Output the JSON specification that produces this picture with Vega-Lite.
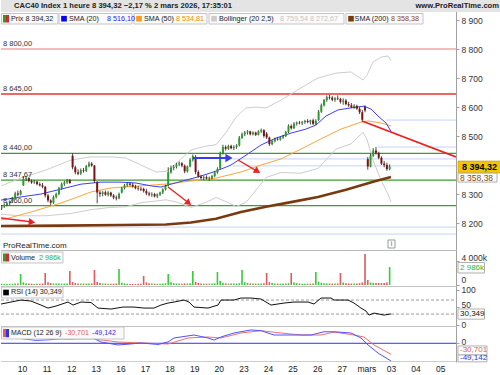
{
"$schema": "https://vega.github.io/schema/vega-lite/v6.json",
"padding": 0,
"spacing": 0,
"bounds": "flush",
"background": "white",
"config": {
  "view": {"stroke": null},
  "font": "Liberation Sans",
  "locale": {"number": {"decimal": ",", "thousands": " ", "grouping": [3], "currency": ["", " €"]}},
  "axis": {"labelFont": "Liberation Sans", "labelFontSize": 8.5, "labelColor": "#333", "domainColor": "#a0a0a0", "tickColor": "#a0a0a0", "tickSize": 3, "labelPadding": 2, "grid": false}
},
"datasets": {
  "one": [{}],
  "bars": [
{"t":0.167,"o":8250,"h":8262,"l":8245,"c":8258,"v":200},
{"t":0.278,"o":8258,"h":8268,"l":8252,"c":8262,"v":180},
{"t":0.389,"o":8262,"h":8272,"l":8258,"c":8268,"v":170},
{"t":0.5,"o":8268,"h":8278,"l":8262,"c":8275,"v":190},
{"t":0.611,"o":8275,"h":8290,"l":8270,"c":8288,"v":210},
{"t":0.722,"o":8288,"h":8308,"l":8285,"c":8302,"v":230},
{"t":0.833,"o":8302,"h":8312,"l":8292,"c":8298,"v":260},
{"t":0.944,"o":8298,"h":8315,"l":8295,"c":8310,"v":1830},
{"t":1.056,"o":8330,"h":8362,"l":8328,"c":8352,"v":450},
{"t":1.167,"o":8352,"h":8360,"l":8345,"c":8355,"v":300},
{"t":1.278,"o":8355,"h":8358,"l":8340,"c":8345,"v":250},
{"t":1.389,"o":8345,"h":8350,"l":8335,"c":8340,"v":220},
{"t":1.5,"o":8340,"h":8348,"l":8335,"c":8343,"v":200},
{"t":1.611,"o":8343,"h":8346,"l":8330,"c":8334,"v":200},
{"t":1.722,"o":8334,"h":8340,"l":8326,"c":8330,"v":210},
{"t":1.833,"o":8330,"h":8338,"l":8320,"c":8325,"v":250},
{"t":1.944,"o":8325,"h":8328,"l":8288,"c":8295,"v":2000},
{"t":2.056,"o":8295,"h":8300,"l":8272,"c":8278,"v":450},
{"t":2.167,"o":8278,"h":8282,"l":8262,"c":8270,"v":320},
{"t":2.278,"o":8270,"h":8295,"l":8266,"c":8290,"v":260},
{"t":2.389,"o":8290,"h":8305,"l":8285,"c":8300,"v":230},
{"t":2.5,"o":8300,"h":8325,"l":8296,"c":8320,"v":240},
{"t":2.611,"o":8320,"h":8340,"l":8315,"c":8335,"v":230},
{"t":2.722,"o":8335,"h":8345,"l":8328,"c":8340,"v":220},
{"t":2.833,"o":8340,"h":8352,"l":8335,"c":8348,"v":260},
{"t":2.944,"o":8348,"h":8352,"l":8335,"c":8338,"v":2330},
{"t":3.056,"o":8432,"h":8440,"l":8385,"c":8392,"v":480},
{"t":3.167,"o":8392,"h":8398,"l":8368,"c":8375,"v":330},
{"t":3.278,"o":8375,"h":8385,"l":8365,"c":8370,"v":260},
{"t":3.389,"o":8370,"h":8388,"l":8366,"c":8382,"v":230},
{"t":3.5,"o":8382,"h":8390,"l":8374,"c":8380,"v":220},
{"t":3.611,"o":8380,"h":8400,"l":8376,"c":8396,"v":220},
{"t":3.722,"o":8396,"h":8412,"l":8392,"c":8405,"v":230},
{"t":3.833,"o":8405,"h":8410,"l":8394,"c":8398,"v":260},
{"t":3.944,"o":8398,"h":8400,"l":8338,"c":8345,"v":2500},
{"t":4.056,"o":8340,"h":8345,"l":8268,"c":8305,"v":520},
{"t":4.167,"o":8305,"h":8312,"l":8290,"c":8300,"v":330},
{"t":4.278,"o":8300,"h":8310,"l":8292,"c":8306,"v":250},
{"t":4.389,"o":8306,"h":8312,"l":8294,"c":8298,"v":230},
{"t":4.5,"o":8298,"h":8310,"l":8292,"c":8305,"v":220},
{"t":4.611,"o":8305,"h":8308,"l":8290,"c":8295,"v":210},
{"t":4.722,"o":8295,"h":8300,"l":8282,"c":8288,"v":220},
{"t":4.833,"o":8288,"h":8295,"l":8278,"c":8285,"v":260},
{"t":4.944,"o":8285,"h":8305,"l":8282,"c":8300,"v":2670},
{"t":5.056,"o":8305,"h":8325,"l":8302,"c":8320,"v":380},
{"t":5.167,"o":8320,"h":8335,"l":8316,"c":8330,"v":260},
{"t":5.278,"o":8330,"h":8340,"l":8325,"c":8336,"v":200},
{"t":5.389,"o":8336,"h":8340,"l":8326,"c":8332,"v":180},
{"t":5.5,"o":8332,"h":8338,"l":8322,"c":8326,"v":170},
{"t":5.611,"o":8326,"h":8332,"l":8316,"c":8320,"v":180},
{"t":5.722,"o":8320,"h":8328,"l":8312,"c":8318,"v":190},
{"t":5.833,"o":8318,"h":8325,"l":8310,"c":8315,"v":210},
{"t":5.944,"o":8318,"h":8322,"l":8305,"c":8310,"v":1500},
{"t":6.056,"o":8310,"h":8318,"l":8296,"c":8302,"v":420},
{"t":6.167,"o":8302,"h":8308,"l":8292,"c":8298,"v":300},
{"t":6.278,"o":8298,"h":8306,"l":8290,"c":8300,"v":240},
{"t":6.389,"o":8300,"h":8304,"l":8288,"c":8292,"v":220},
{"t":6.5,"o":8292,"h":8302,"l":8286,"c":8298,"v":210},
{"t":6.611,"o":8298,"h":8308,"l":8294,"c":8305,"v":220},
{"t":6.722,"o":8305,"h":8320,"l":8300,"c":8316,"v":240},
{"t":6.833,"o":8316,"h":8332,"l":8312,"c":8328,"v":280},
{"t":6.944,"o":8330,"h":8392,"l":8326,"c":8375,"v":1830},
{"t":7.056,"o":8375,"h":8398,"l":8370,"c":8390,"v":450},
{"t":7.167,"o":8390,"h":8400,"l":8382,"c":8394,"v":300},
{"t":7.278,"o":8394,"h":8408,"l":8388,"c":8402,"v":250},
{"t":7.389,"o":8402,"h":8412,"l":8396,"c":8406,"v":230},
{"t":7.5,"o":8406,"h":8410,"l":8392,"c":8398,"v":220},
{"t":7.611,"o":8398,"h":8402,"l":8372,"c":8378,"v":260},
{"t":7.722,"o":8378,"h":8398,"l":8374,"c":8395,"v":250},
{"t":7.833,"o":8395,"h":8424,"l":8392,"c":8418,"v":280},
{"t":7.944,"o":8418,"h":8436,"l":8412,"c":8430,"v":2330},
{"t":8.056,"o":8428,"h":8434,"l":8368,"c":8376,"v":520},
{"t":8.167,"o":8376,"h":8382,"l":8356,"c":8360,"v":340},
{"t":8.278,"o":8360,"h":8366,"l":8350,"c":8355,"v":260},
{"t":8.389,"o":8355,"h":8362,"l":8348,"c":8358,"v":230},
{"t":8.5,"o":8358,"h":8364,"l":8350,"c":8354,"v":220},
{"t":8.611,"o":8354,"h":8360,"l":8346,"c":8356,"v":220},
{"t":8.722,"o":8356,"h":8366,"l":8350,"c":8362,"v":240},
{"t":8.833,"o":8362,"h":8378,"l":8358,"c":8374,"v":280},
{"t":8.944,"o":8374,"h":8392,"l":8370,"c":8386,"v":2170},
{"t":9.056,"o":8388,"h":8446,"l":8385,"c":8440,"v":650},
{"t":9.167,"o":8440,"h":8470,"l":8436,"c":8462,"v":380},
{"t":9.278,"o":8462,"h":8468,"l":8450,"c":8456,"v":280},
{"t":9.389,"o":8456,"h":8470,"l":8452,"c":8466,"v":250},
{"t":9.5,"o":8466,"h":8470,"l":8454,"c":8458,"v":230},
{"t":9.611,"o":8458,"h":8468,"l":8452,"c":8462,"v":230},
{"t":9.722,"o":8462,"h":8472,"l":8456,"c":8468,"v":250},
{"t":9.833,"o":8468,"h":8500,"l":8464,"c":8494,"v":300},
{"t":9.944,"o":8494,"h":8512,"l":8490,"c":8506,"v":2500},
{"t":10.056,"o":8506,"h":8518,"l":8500,"c":8512,"v":450},
{"t":10.167,"o":8512,"h":8520,"l":8505,"c":8516,"v":320},
{"t":10.278,"o":8516,"h":8518,"l":8502,"c":8506,"v":260},
{"t":10.389,"o":8506,"h":8516,"l":8502,"c":8512,"v":230},
{"t":10.5,"o":8512,"h":8515,"l":8500,"c":8504,"v":220},
{"t":10.611,"o":8504,"h":8520,"l":8502,"c":8516,"v":230},
{"t":10.722,"o":8516,"h":8526,"l":8510,"c":8520,"v":240},
{"t":10.833,"o":8520,"h":8524,"l":8494,"c":8500,"v":290},
{"t":10.944,"o":8508,"h":8514,"l":8490,"c":8495,"v":2000},
{"t":11.056,"o":8495,"h":8498,"l":8466,"c":8472,"v":480},
{"t":11.167,"o":8472,"h":8486,"l":8468,"c":8482,"v":330},
{"t":11.278,"o":8482,"h":8494,"l":8478,"c":8490,"v":260},
{"t":11.389,"o":8490,"h":8496,"l":8484,"c":8488,"v":230},
{"t":11.5,"o":8488,"h":8498,"l":8484,"c":8495,"v":220},
{"t":11.611,"o":8495,"h":8504,"l":8490,"c":8500,"v":230},
{"t":11.722,"o":8500,"h":8518,"l":8496,"c":8514,"v":250},
{"t":11.833,"o":8514,"h":8540,"l":8510,"c":8535,"v":300},
{"t":11.944,"o":8535,"h":8540,"l":8522,"c":8527,"v":2000},
{"t":12.056,"o":8527,"h":8548,"l":8524,"c":8542,"v":420},
{"t":12.167,"o":8542,"h":8550,"l":8536,"c":8546,"v":300},
{"t":12.278,"o":8546,"h":8552,"l":8540,"c":8544,"v":240},
{"t":12.389,"o":8544,"h":8552,"l":8538,"c":8548,"v":220},
{"t":12.5,"o":8548,"h":8556,"l":8542,"c":8552,"v":210},
{"t":12.611,"o":8552,"h":8558,"l":8544,"c":8548,"v":220},
{"t":12.722,"o":8548,"h":8556,"l":8540,"c":8554,"v":230},
{"t":12.833,"o":8554,"h":8560,"l":8538,"c":8542,"v":260},
{"t":12.944,"o":8542,"h":8558,"l":8538,"c":8552,"v":2170},
{"t":13.056,"o":8555,"h":8590,"l":8552,"c":8584,"v":550},
{"t":13.167,"o":8584,"h":8612,"l":8580,"c":8606,"v":380},
{"t":13.278,"o":8606,"h":8628,"l":8602,"c":8624,"v":300},
{"t":13.389,"o":8624,"h":8640,"l":8618,"c":8634,"v":260},
{"t":13.5,"o":8634,"h":8642,"l":8626,"c":8632,"v":240},
{"t":13.611,"o":8632,"h":8638,"l":8620,"c":8625,"v":230},
{"t":13.722,"o":8625,"h":8634,"l":8618,"c":8630,"v":240},
{"t":13.833,"o":8630,"h":8640,"l":8624,"c":8628,"v":260},
{"t":13.944,"o":8628,"h":8632,"l":8612,"c":8618,"v":2000},
{"t":14.056,"o":8618,"h":8630,"l":8608,"c":8622,"v":420},
{"t":14.167,"o":8622,"h":8628,"l":8606,"c":8610,"v":300},
{"t":14.278,"o":8610,"h":8618,"l":8600,"c":8606,"v":260},
{"t":14.389,"o":8606,"h":8614,"l":8596,"c":8600,"v":240},
{"t":14.5,"o":8600,"h":8610,"l":8594,"c":8604,"v":230},
{"t":14.611,"o":8604,"h":8608,"l":8590,"c":8594,"v":240},
{"t":14.722,"o":8594,"h":8600,"l":8576,"c":8582,"v":300},
{"t":14.833,"o":8582,"h":8590,"l":8548,"c":8556,"v":420},
{"t":14.944,"o":8600,"h":8606,"l":8582,"c":8588,"v":5170},
{"t":15.056,"o":8420,"h":8428,"l":8384,"c":8395,"v":830},
{"t":15.167,"o":8395,"h":8440,"l":8392,"c":8432,"v":420},
{"t":15.278,"o":8432,"h":8458,"l":8428,"c":8450,"v":360},
{"t":15.389,"o":8450,"h":8462,"l":8436,"c":8442,"v":330},
{"t":15.5,"o":8442,"h":8446,"l":8420,"c":8425,"v":320},
{"t":15.611,"o":8425,"h":8430,"l":8400,"c":8405,"v":330},
{"t":15.722,"o":8405,"h":8414,"l":8392,"c":8400,"v":340},
{"t":15.833,"o":8400,"h":8408,"l":8380,"c":8386,"v":400},
{"t":15.944,"o":8386,"h":8402,"l":8382,"c":8394.32,"v":2986}
  ],
  "ind": [
{"k":"s20","t":0.146,"v":8279},{"k":"s20","t":0.959,"v":8290},{"k":"s20","t":1.772,"v":8300},{"k":"s20","t":2.585,"v":8317},{"k":"s20","t":3.398,"v":8334},{"k":"s20","t":4.211,"v":8341},{"k":"s20","t":5.024,"v":8341},{"k":"s20","t":5.634,"v":8338},{"k":"s20","t":6.244,"v":8328},{"k":"s20","t":6.65,"v":8324},{"k":"s20","t":7.057,"v":8334},{"k":"s20","t":7.666,"v":8348},{"k":"s20","t":8.276,"v":8362},{"k":"s20","t":8.886,"v":8379},{"k":"s20","t":9.496,"v":8400},{"k":"s20","t":10.106,"v":8434},{"k":"s20","t":10.715,"v":8469},{"k":"s20","t":11.325,"v":8493},{"k":"s20","t":11.935,"v":8510},{"k":"s20","t":12.545,"v":8524},{"k":"s20","t":12.951,"v":8538},{"k":"s20","t":13.358,"v":8569},{"k":"s20","t":13.846,"v":8590},{"k":"s20","t":14.374,"v":8597},{"k":"s20","t":14.902,"v":8603},{"k":"s20","t":15.187,"v":8593},{"k":"s20","t":15.471,"v":8569},{"k":"s20","t":15.797,"v":8545},{"k":"s20","t":15.999,"v":8516.1},
{"k":"s50","t":0.146,"v":8210},{"k":"s50","t":1.366,"v":8238},{"k":"s50","t":2.585,"v":8269},{"k":"s50","t":3.805,"v":8307},{"k":"s50","t":4.618,"v":8321},{"k":"s50","t":5.837,"v":8328},{"k":"s50","t":6.935,"v":8335},{"k":"s50","t":7.87,"v":8345},{"k":"s50","t":8.886,"v":8355},{"k":"s50","t":9.902,"v":8376},{"k":"s50","t":10.715,"v":8400},{"k":"s50","t":11.528,"v":8421},{"k":"s50","t":12.341,"v":8455},{"k":"s50","t":13.154,"v":8490},{"k":"s50","t":13.967,"v":8524},{"k":"s50","t":14.78,"v":8548},{"k":"s50","t":15.065,"v":8552},{"k":"s50","t":15.593,"v":8545},{"k":"s50","t":15.999,"v":8534.81},
{"k":"s200","t":0.146,"v":8190},{"k":"s200","t":2.585,"v":8191},{"k":"s200","t":5.024,"v":8193},{"k":"s200","t":6.854,"v":8195},{"k":"s200","t":7.87,"v":8202},{"k":"s200","t":8.886,"v":8215},{"k":"s200","t":9.902,"v":8238},{"k":"s200","t":10.919,"v":8256},{"k":"s200","t":11.935,"v":8272},{"k":"s200","t":13.032,"v":8290},{"k":"s200","t":14.17,"v":8315},{"k":"s200","t":15.309,"v":8343},{"k":"s200","t":15.999,"v":8358.38},
{"k":"bbu","t":0.146,"v":8328},{"k":"bbu","t":0.959,"v":8355},{"k":"bbu","t":1.975,"v":8383},{"k":"bbu","t":2.992,"v":8417},{"k":"bbu","t":3.805,"v":8428},{"k":"bbu","t":4.618,"v":8428},{"k":"bbu","t":5.227,"v":8424},{"k":"bbu","t":5.837,"v":8400},{"k":"bbu","t":6.447,"v":8376},{"k":"bbu","t":6.854,"v":8378},{"k":"bbu","t":7.26,"v":8405},{"k":"bbu","t":7.87,"v":8452},{"k":"bbu","t":8.479,"v":8465},{"k":"bbu","t":8.886,"v":8470},{"k":"bbu","t":9.293,"v":8512},{"k":"bbu","t":9.699,"v":8565},{"k":"bbu","t":10.106,"v":8597},{"k":"bbu","t":10.512,"v":8600},{"k":"bbu","t":10.919,"v":8597},{"k":"bbu","t":11.528,"v":8624},{"k":"bbu","t":12.341,"v":8666},{"k":"bbu","t":13.032,"v":8700},{"k":"bbu","t":13.764,"v":8717},{"k":"bbu","t":14.374,"v":8721},{"k":"bbu","t":14.862,"v":8693},{"k":"bbu","t":15.024,"v":8710},{"k":"bbu","t":15.268,"v":8755},{"k":"bbu","t":15.593,"v":8772},{"k":"bbu","t":15.878,"v":8776},{"k":"bbu","t":15.999,"v":8759.54},
{"k":"bbl","t":0.146,"v":8230},{"k":"bbl","t":0.959,"v":8225},{"k":"bbl","t":1.975,"v":8225},{"k":"bbl","t":2.992,"v":8233},{"k":"bbl","t":3.805,"v":8246},{"k":"bbl","t":4.618,"v":8254},{"k":"bbl","t":5.227,"v":8256},{"k":"bbl","t":5.837,"v":8270},{"k":"bbl","t":6.447,"v":8276},{"k":"bbl","t":6.854,"v":8280},{"k":"bbl","t":7.26,"v":8273},{"k":"bbl","t":7.87,"v":8254},{"k":"bbl","t":8.479,"v":8271},{"k":"bbl","t":8.886,"v":8288},{"k":"bbl","t":9.293,"v":8274},{"k":"bbl","t":9.699,"v":8257},{"k":"bbl","t":10.106,"v":8271},{"k":"bbl","t":10.512,"v":8314},{"k":"bbl","t":10.919,"v":8357},{"k":"bbl","t":11.528,"v":8374},{"k":"bbl","t":12.341,"v":8372},{"k":"bbl","t":13.032,"v":8388},{"k":"bbl","t":13.764,"v":8455},{"k":"bbl","t":14.374,"v":8473},{"k":"bbl","t":14.862,"v":8513},{"k":"bbl","t":15.024,"v":8488},{"k":"bbl","t":15.268,"v":8417},{"k":"bbl","t":15.593,"v":8348},{"k":"bbl","t":15.878,"v":8300},{"k":"bbl","t":15.999,"v":8272.67}
  ],
  "levels": [
{"g":"r2","p":8800,"t1":0.146,"t2":18.642},
{"g":"r1","p":8645,"t1":0.146,"t2":18.642},
{"g":"gr","p":8440,"t1":0.146,"t2":18.642},
{"g":"gr","p":8347.67,"t1":0.146,"t2":18.642},
{"g":"gr","p":8260,"t1":0.146,"t2":18.642},
{"g":"lb","p":8555,"t1":15.797,"t2":18.642},
{"g":"lb","p":8462,"t1":15.471,"t2":18.642},
{"g":"lb","p":8421,"t1":9.577,"t2":18.642},
{"g":"lb","p":8397,"t1":9.577,"t2":18.642},
{"g":"lb","p":8186,"t1":0.146,"t2":18.642},
{"g":"lb","p":8162,"t1":0.146,"t2":18.642}
  ],
  "arrows": [
{"g":"red","t1":0.146,"p1":8217.3,"t2":1.406,"p2":8203.5},
{"g":"red","t1":6.935,"p1":8324.2,"t2":7.776,"p2":8268.7},
{"g":"red","t1":9.78,"p1":8417.3,"t2":10.569,"p2":8378},
{"g":"trend","t1":14.821,"p1":8551.8,"t2":18.642,"p2":8427.7},
{"g":"blue","t1":7.951,"p1":8424.2,"t2":9.414,"p2":8424.2}
  ],
  "rsi": [
{"t":0.146,"v":58.6},{"t":0.553,"v":64.3},{"t":0.959,"v":70},{"t":1.366,"v":67},{"t":1.772,"v":55.7},{"t":2.057,"v":47.1},{"t":2.382,"v":52.9},{"t":2.87,"v":64.3},{"t":3.073,"v":55.7},{"t":3.398,"v":64.3},{"t":3.805,"v":62.9},{"t":4.089,"v":47.1},{"t":4.618,"v":44.3},{"t":5.106,"v":50},{"t":5.553,"v":50},{"t":5.959,"v":47.1},{"t":6.366,"v":47.1},{"t":6.65,"v":55.7},{"t":6.935,"v":61.4},{"t":7.179,"v":64.3},{"t":7.585,"v":70},{"t":7.788,"v":64.3},{"t":7.992,"v":50},{"t":8.561,"v":47.1},{"t":8.967,"v":55.7},{"t":9.089,"v":70},{"t":9.618,"v":70},{"t":9.902,"v":75.7},{"t":10.309,"v":75.7},{"t":10.715,"v":72.9},{"t":10.919,"v":64.3},{"t":11.122,"v":55.7},{"t":11.65,"v":61.4},{"t":12.057,"v":64.3},{"t":12.626,"v":64.3},{"t":12.87,"v":58.6},{"t":13.154,"v":75.7},{"t":13.561,"v":75.7},{"t":13.683,"v":70},{"t":14.252,"v":70},{"t":14.496,"v":61.4},{"t":14.78,"v":47.1},{"t":14.984,"v":38.6},{"t":15.106,"v":27.1},{"t":15.309,"v":32.9},{"t":15.715,"v":27.1},{"t":15.999,"v":30.349}
  ],
  "macd": [
{"k":"m","t":0.146,"v":16},{"k":"m","t":0.959,"v":13},{"k":"m","t":1.569,"v":8},{"k":"m","t":2.179,"v":10},{"k":"m","t":2.585,"v":13},{"k":"m","t":2.992,"v":12},{"k":"m","t":3.398,"v":15},{"k":"m","t":3.927,"v":13},{"k":"m","t":4.211,"v":3.6},{"k":"m","t":4.902,"v":-4.7},{"k":"m","t":5.227,"v":-3},{"k":"m","t":5.837,"v":0.8},{"k":"m","t":6.528,"v":-3.3},{"k":"m","t":6.935,"v":3.6},{"k":"m","t":7.179,"v":14.7},{"k":"m","t":7.992,"v":23},{"k":"m","t":8.561,"v":14.7},{"k":"m","t":8.805,"v":9},{"k":"m","t":9.089,"v":17.5},{"k":"m","t":9.618,"v":28.6},{"k":"m","t":10.309,"v":37},{"k":"m","t":10.715,"v":35},{"k":"m","t":11.244,"v":23},{"k":"m","t":11.935,"v":23},{"k":"m","t":12.748,"v":23},{"k":"m","t":13.276,"v":32},{"k":"m","t":13.683,"v":32},{"k":"m","t":14.374,"v":28.6},{"k":"m","t":14.78,"v":14.7},{"k":"m","t":15.065,"v":-4.7},{"k":"m","t":15.471,"v":-27},{"k":"m","t":15.999,"v":-49.142},
{"k":"s","t":0.146,"v":17},{"k":"s","t":1.366,"v":15},{"k":"s","t":2.585,"v":12},{"k":"s","t":3.927,"v":12},{"k":"s","t":4.902,"v":3.6},{"k":"s","t":5.837,"v":0.8},{"k":"s","t":6.935,"v":-2},{"k":"s","t":7.748,"v":14.7},{"k":"s","t":8.561,"v":17.5},{"k":"s","t":9.089,"v":14.7},{"k":"s","t":9.902,"v":28.6},{"k":"s","t":10.715,"v":35},{"k":"s","t":11.528,"v":28.6},{"k":"s","t":12.341,"v":23},{"k":"s","t":13.154,"v":23},{"k":"s","t":13.683,"v":31},{"k":"s","t":14.496,"v":23},{"k":"s","t":14.902,"v":17.5},{"k":"s","t":15.309,"v":-4.7},{"k":"s","t":15.999,"v":-30.701}
  ]
},
"vconcat": [
{
  "width": 455, "height": 250,
  "data": {"name": "one"},
  "layer": [
    {"mark": {"type": "rect", "color": "#e4e4e4"},
     "encoding": {"x": {"datum": 0.146, "type": "quantitative", "scale": {"domain": [0.146, 18.642], "nice": false, "zero": false}, "axis": null}, "x2": {"datum": 20.472},
                  "y": {"datum": 8969, "type": "quantitative", "scale": {"domain": [8107, 8969], "nice": false, "zero": false}}, "y2": {"datum": 8927.6}}},
    {"data": {"name": "levels"}, "transform": [{"filter": "datum.g === 'lb'"}],
     "mark": {"type": "rule", "color": "#c6d3f6", "strokeWidth": 1, "clip": true},
     "encoding": {"x": {"field": "t1", "type": "quantitative", "axis": null}, "x2": {"field": "t2"}, "y": {"field": "p", "type": "quantitative"}}},
    {"data": {"name": "levels"}, "transform": [{"filter": "datum.g === 'gr'"}],
     "mark": {"type": "rule", "color": "#3f9a35", "strokeWidth": 1.2, "clip": true},
     "encoding": {"x": {"field": "t1", "type": "quantitative", "axis": null}, "x2": {"field": "t2"}, "y": {"field": "p", "type": "quantitative"}}},
    {"data": {"name": "levels"}, "transform": [{"filter": "datum.g === 'r1'"}],
     "mark": {"type": "rule", "color": "#e8342c", "strokeWidth": 1.5, "clip": true},
     "encoding": {"x": {"field": "t1", "type": "quantitative", "axis": null}, "x2": {"field": "t2"}, "y": {"field": "p", "type": "quantitative"}}},
    {"data": {"name": "levels"}, "transform": [{"filter": "datum.g === 'r2'"}],
     "mark": {"type": "rule", "color": "#f4a4a4", "strokeWidth": 1.5, "clip": true},
     "encoding": {"x": {"field": "t1", "type": "quantitative", "axis": null}, "x2": {"field": "t2"}, "y": {"field": "p", "type": "quantitative"}}},
    {"data": {"name": "ind"}, "transform": [{"filter": "datum.k === 'bbu' || datum.k === 'bbl'"}],
     "mark": {"type": "line", "color": "#cdcdcd", "strokeWidth": 1, "clip": true},
     "encoding": {"x": {"field": "t", "type": "quantitative", "axis": null}, "y": {"field": "v", "type": "quantitative"}, "detail": {"field": "k"}}},
    {"data": {"name": "ind"}, "transform": [{"filter": "datum.k === 's200'"}],
     "mark": {"type": "line", "color": "#7a3a10", "strokeWidth": 2.6, "clip": true},
     "encoding": {"x": {"field": "t", "type": "quantitative", "axis": null}, "y": {"field": "v", "type": "quantitative"}}},
    {"data": {"name": "ind"}, "transform": [{"filter": "datum.k === 's50'"}],
     "mark": {"type": "line", "color": "#ffa53a", "strokeWidth": 1, "clip": true},
     "encoding": {"x": {"field": "t", "type": "quantitative", "axis": null}, "y": {"field": "v", "type": "quantitative"}}},
    {"data": {"name": "ind"}, "transform": [{"filter": "datum.k === 's20'"}],
     "mark": {"type": "line", "color": "#3d3dff", "strokeWidth": 1, "clip": true},
     "encoding": {"x": {"field": "t", "type": "quantitative", "axis": null}, "y": {"field": "v", "type": "quantitative"}}},
    {"data": {"name": "bars"},
     "mark": {"type": "rule", "color": "#1a1a1a", "strokeWidth": 0.8, "clip": true},
     "encoding": {"x": {"field": "t", "type": "quantitative", "axis": null},
                  "y": {"field": "l", "type": "quantitative", "axis": {"orient": "right", "values": [8200, 8300, 8500, 8600, 8700, 8800, 8900], "tickCount": 40, "labelExpr": "replace(format(datum.value, ','), ',', ' ')", "title": null, "labelOverlap": false}},
                  "y2": {"field": "h"}}},
    {"data": {"name": "bars"},
     "mark": {"type": "rule", "strokeWidth": 2, "clip": true},
     "encoding": {"x": {"field": "t", "type": "quantitative", "axis": null}, "y": {"field": "o", "type": "quantitative"}, "y2": {"field": "c"},
                  "color": {"condition": {"test": "datum.c >= datum.o", "value": "#2a9d2a"}, "value": "#7d1212"}}},
    {"data": {"name": "arrows"}, "transform": [{"filter": "datum.g === 'red'"}],
     "mark": {"type": "rule", "color": "#ee2020", "strokeWidth": 1.3, "clip": true},
     "encoding": {"x": {"field": "t1", "type": "quantitative", "axis": null}, "x2": {"field": "t2"}, "y": {"field": "p1", "type": "quantitative"}, "y2": {"field": "p2"}}},
    {"data": {"name": "arrows"}, "transform": [{"filter": "datum.g === 'trend'"}],
     "mark": {"type": "rule", "color": "#ee2020", "strokeWidth": 1.8, "clip": true},
     "encoding": {"x": {"field": "t1", "type": "quantitative", "axis": null}, "x2": {"field": "t2"}, "y": {"field": "p1", "type": "quantitative"}, "y2": {"field": "p2"}}},
    {"data": {"name": "arrows"}, "transform": [{"filter": "datum.g === 'blue'"}],
     "mark": {"type": "rule", "color": "#3a3af0", "strokeWidth": 2, "clip": true},
     "encoding": {"x": {"field": "t1", "type": "quantitative", "axis": null}, "x2": {"field": "t2"}, "y": {"field": "p1", "type": "quantitative"}, "y2": {"field": "p2"}}},
    {"mark": {"type": "point", "shape": "triangle-right", "filled": true, "color": "#ee2020", "size": 55, "angle": 7, "opacity": 1},
     "encoding": {"x": {"datum": 1.406, "type": "quantitative", "axis": null}, "y": {"datum": 8203.5, "type": "quantitative"}}},
    {"mark": {"type": "point", "shape": "triangle-right", "filled": true, "color": "#ee2020", "size": 55, "angle": 39, "opacity": 1},
     "encoding": {"x": {"datum": 7.776, "type": "quantitative", "axis": null}, "y": {"datum": 8268.7, "type": "quantitative"}}},
    {"mark": {"type": "point", "shape": "triangle-right", "filled": true, "color": "#ee2020", "size": 55, "angle": 32, "opacity": 1},
     "encoding": {"x": {"datum": 10.569, "type": "quantitative", "axis": null}, "y": {"datum": 8378, "type": "quantitative"}}},
    {"mark": {"type": "point", "shape": "triangle-right", "filled": true, "color": "#3a3af0", "size": 70, "angle": 0, "opacity": 1},
     "encoding": {"x": {"datum": 9.414, "type": "quantitative", "axis": null}, "y": {"datum": 8424.2, "type": "quantitative"}}},
    {"data": {"name": "levels"}, "transform": [{"filter": "datum.g !== 'lb'"}],
     "mark": {"type": "text", "align": "left", "baseline": "bottom", "dy": -1, "fontSize": 7.5, "color": "#333"},
     "encoding": {"x": {"datum": 0.227, "type": "quantitative", "axis": null}, "y": {"field": "p", "type": "quantitative"}, "text": {"field": "p", "type": "quantitative", "format": ",.2f"}}},

    {"mark": {"type": "text", "align": "left", "baseline": "middle", "fontSize": 7.6, "fontWeight": "bold", "color": "#222", "text": "CAC40 Index 1 heure 8 394,32 −2,17 % 2 mars 2026, 17:35:01"},
     "encoding": {"x": {"datum": 0.674, "type": "quantitative", "axis": null}, "y": {"datum": 8948.3, "type": "quantitative"}}},
    {"mark": {"type": "text", "align": "right", "baseline": "middle", "fontSize": 7.6, "fontWeight": "bold", "color": "#222", "text": "www.ProRealTime.com"},
     "encoding": {"x": {"datum": 20.39, "type": "quantitative", "axis": null}, "y": {"datum": 8948.3, "type": "quantitative"}}},

    {"mark": {"type": "rect", "fill": "#fafafa", "stroke": "#c4c4c4", "strokeWidth": 1},
     "encoding": {"x": {"datum": 0.166, "type": "quantitative", "axis": null}, "x2": {"datum": 2.463}, "y": {"datum": 8922.5, "type": "quantitative"}, "y2": {"datum": 8886.2}}},
    {"mark": {"type": "rect", "fill": "#fafafa", "stroke": "#c4c4c4", "strokeWidth": 1},
     "encoding": {"x": {"datum": 2.504, "type": "quantitative", "axis": null}, "x2": {"datum": 5.471}, "y": {"datum": 8922.5, "type": "quantitative"}, "y2": {"datum": 8886.2}}},
    {"mark": {"type": "rect", "fill": "#fafafa", "stroke": "#c4c4c4", "strokeWidth": 1},
     "encoding": {"x": {"datum": 5.553, "type": "quantitative", "axis": null}, "x2": {"datum": 8.52}, "y": {"datum": 8922.5, "type": "quantitative"}, "y2": {"datum": 8886.2}}},
    {"mark": {"type": "rect", "fill": "#fafafa", "stroke": "#c4c4c4", "strokeWidth": 1},
     "encoding": {"x": {"datum": 8.601, "type": "quantitative", "axis": null}, "x2": {"datum": 14.089}, "y": {"datum": 8922.5, "type": "quantitative"}, "y2": {"datum": 8886.2}}},
    {"mark": {"type": "rect", "fill": "#fafafa", "stroke": "#c4c4c4", "strokeWidth": 1},
     "encoding": {"x": {"datum": 14.17, "type": "quantitative", "axis": null}, "x2": {"datum": 17.301}, "y": {"datum": 8922.5, "type": "quantitative"}, "y2": {"datum": 8886.2}}},
    {"mark": {"type": "rect", "color": "#22a322"},
     "encoding": {"x": {"datum": 0.228, "type": "quantitative", "axis": null}, "x2": {"datum": 0.349}, "y": {"datum": 8917.3, "type": "quantitative"}, "y2": {"datum": 8891.4}}},
    {"mark": {"type": "rect", "color": "#d42a2a"},
     "encoding": {"x": {"datum": 0.349, "type": "quantitative", "axis": null}, "x2": {"datum": 0.471}, "y": {"datum": 8917.3, "type": "quantitative"}, "y2": {"datum": 8891.4}}},
    {"mark": {"type": "point", "shape": "square", "filled": true, "opacity": 1, "size": 32, "color": "#0000ff"},
     "encoding": {"x": {"datum": 2.707, "type": "quantitative", "axis": null}, "y": {"datum": 8904.5, "type": "quantitative"}}},
    {"mark": {"type": "point", "shape": "square", "filled": true, "opacity": 1, "size": 32, "color": "#ff9a1a"},
     "encoding": {"x": {"datum": 5.756, "type": "quantitative", "axis": null}, "y": {"datum": 8904.5, "type": "quantitative"}}},
    {"mark": {"type": "point", "shape": "square", "filled": true, "opacity": 1, "size": 32, "color": "#cccccc"},
     "encoding": {"x": {"datum": 8.805, "type": "quantitative", "axis": null}, "y": {"datum": 8904.5, "type": "quantitative"}}},
    {"mark": {"type": "point", "shape": "square", "filled": true, "opacity": 1, "size": 32, "color": "#7a3a10"},
     "encoding": {"x": {"datum": 14.374, "type": "quantitative", "axis": null}, "y": {"datum": 8904.5, "type": "quantitative"}}},
    {"mark": {"type": "text", "align": "left", "baseline": "middle", "fontSize": 7.2, "color": "#222", "text": "Prix 8 394,32"},
     "encoding": {"x": {"datum": 0.553, "type": "quantitative", "axis": null}, "y": {"datum": 8904.5, "type": "quantitative"}}},
    {"mark": {"type": "text", "align": "left", "baseline": "middle", "fontSize": 7.2, "color": "#222", "text": "SMA (20)"},
     "encoding": {"x": {"datum": 2.91, "type": "quantitative", "axis": null}, "y": {"datum": 8904.5, "type": "quantitative"}}},
    {"mark": {"type": "text", "align": "left", "baseline": "middle", "fontSize": 7.2, "color": "#1a1aff", "text": "8 516,10"},
     "encoding": {"x": {"datum": 4.455, "type": "quantitative", "axis": null}, "y": {"datum": 8904.5, "type": "quantitative"}}},
    {"mark": {"type": "text", "align": "left", "baseline": "middle", "fontSize": 7.2, "color": "#222", "text": "SMA (50)"},
     "encoding": {"x": {"datum": 5.959, "type": "quantitative", "axis": null}, "y": {"datum": 8904.5, "type": "quantitative"}}},
    {"mark": {"type": "text", "align": "left", "baseline": "middle", "fontSize": 7.2, "color": "#f08c00", "text": "8 534,81"},
     "encoding": {"x": {"datum": 7.26, "type": "quantitative", "axis": null}, "y": {"datum": 8904.5, "type": "quantitative"}}},
    {"mark": {"type": "text", "align": "left", "baseline": "middle", "fontSize": 7.2, "color": "#222", "text": "Bollinger (20 2,5)"},
     "encoding": {"x": {"datum": 9.008, "type": "quantitative", "axis": null}, "y": {"datum": 8904.5, "type": "quantitative"}}},
    {"mark": {"type": "text", "align": "left", "baseline": "middle", "fontSize": 7.2, "color": "#c4c4c4", "text": "8 759,54  8 272,67"},
     "encoding": {"x": {"datum": 11.488, "type": "quantitative", "axis": null}, "y": {"datum": 8904.5, "type": "quantitative"}}},
    {"mark": {"type": "text", "align": "left", "baseline": "middle", "fontSize": 7.2, "color": "#222", "text": "SMA (200)"},
     "encoding": {"x": {"datum": 14.52, "type": "quantitative", "axis": null}, "y": {"datum": 8904.5, "type": "quantitative"}}},
    {"mark": {"type": "text", "align": "left", "baseline": "middle", "fontSize": 7.2, "color": "#8b4513", "text": "8 358,38"},
     "encoding": {"x": {"datum": 16.0, "type": "quantitative", "axis": null}, "y": {"datum": 8904.5, "type": "quantitative"}}},

    {"mark": {"type": "rect", "fill": "#f5c400", "stroke": "#b08c00", "strokeWidth": 0.5},
     "encoding": {"x": {"datum": 18.723, "type": "quantitative", "axis": null}, "x2": {"datum": 20.472}, "y": {"datum": 8413.9, "type": "quantitative"}, "y2": {"datum": 8372.5}}},
    {"mark": {"type": "text", "align": "center", "baseline": "middle", "fontSize": 9, "fontWeight": "bold", "color": "#000", "text": "8 394,32"},
     "encoding": {"x": {"datum": 19.597, "type": "quantitative", "axis": null}, "y": {"datum": 8394.32, "type": "quantitative"}}},
    {"mark": {"type": "rect", "fill": "#ffffff", "stroke": "#b0b0b0", "strokeWidth": 1},
     "encoding": {"x": {"datum": 18.723, "type": "quantitative", "axis": null}, "x2": {"datum": 20.309}, "y": {"datum": 8372, "type": "quantitative"}, "y2": {"datum": 8341.2}}},
    {"mark": {"type": "text", "align": "left", "baseline": "middle", "fontSize": 8.5, "color": "#8b4513", "text": "8 358,38"},
     "encoding": {"x": {"datum": 18.805, "type": "quantitative", "axis": null}, "y": {"datum": 8356.5, "type": "quantitative"}}},

    {"mark": {"type": "text", "align": "left", "baseline": "middle", "fontSize": 8, "color": "#222", "text": "ProRealTime.com"},
     "encoding": {"x": {"datum": 0.227, "type": "quantitative", "axis": null}, "y": {"datum": 8120.8, "type": "quantitative"}}},
    {"mark": {"type": "rect", "fill": "#ffffff", "stroke": "#999", "strokeWidth": 1},
     "encoding": {"x": {"datum": 15.878, "type": "quantitative", "axis": null}, "x2": {"datum": 16.162}, "y": {"datum": 8141.5, "type": "quantitative"}, "y2": {"datum": 8113.9}}},
    {"mark": {"type": "text", "align": "center", "baseline": "middle", "fontSize": 7, "color": "#666", "text": "i"},
     "encoding": {"x": {"datum": 16.02, "type": "quantitative", "axis": null}, "y": {"datum": 8127.7, "type": "quantitative"}}}
  ]
},
{
  "width": 455, "height": 36,
  "data": {"name": "one"},
  "layer": [
    {"mark": {"type": "rule", "color": "#b8b8b8", "strokeWidth": 1, "clip": true},
     "encoding": {"x": {"datum": 0.146, "type": "quantitative", "scale": {"domain": [0.146, 18.642], "nice": false, "zero": false}, "axis": null}, "x2": {"datum": 18.642},
                  "y": {"datum": 5750, "type": "quantitative", "scale": {"domain": [-167, 5833], "nice": false, "zero": false}}}},
    {"data": {"name": "bars"},
     "mark": {"type": "rule", "strokeWidth": 1.6, "clip": true},
     "encoding": {"x": {"field": "t", "type": "quantitative", "axis": null},
                  "y": {"field": "v", "type": "quantitative", "axis": {"orient": "right", "values": [0, 4000], "tickCount": 20, "labelExpr": "datum.value == 4000 ? '4 000k' : '0'", "labelOffset": {"condition": {"test": "datum.value == 0", "value": -5}, "value": -3}, "title": null, "labelOverlap": false}},
                  "y2": {"datum": 0},
                  "color": {"condition": {"test": "datum.c >= datum.o", "value": "#35cc35"}, "value": "#e25a5a"}}},
    {"mark": {"type": "rect", "fill": "#fafafa", "stroke": "#c4c4c4", "strokeWidth": 1},
     "encoding": {"x": {"datum": 0.166, "type": "quantitative", "axis": null}, "x2": {"datum": 2.666}, "y": {"datum": 5500, "type": "quantitative"}, "y2": {"datum": 3667}}},
    {"mark": {"type": "rect", "color": "#22a322"},
     "encoding": {"x": {"datum": 0.228, "type": "quantitative", "axis": null}, "x2": {"datum": 0.349}, "y": {"datum": 5250, "type": "quantitative"}, "y2": {"datum": 3920}}},
    {"mark": {"type": "rect", "color": "#d42a2a"},
     "encoding": {"x": {"datum": 0.349, "type": "quantitative", "axis": null}, "x2": {"datum": 0.471}, "y": {"datum": 5250, "type": "quantitative"}, "y2": {"datum": 3920}}},
    {"mark": {"type": "text", "align": "left", "baseline": "middle", "fontSize": 7.2, "color": "#222", "text": "Volume"},
     "encoding": {"x": {"datum": 0.553, "type": "quantitative", "axis": null}, "y": {"datum": 4583, "type": "quantitative"}}},
    {"mark": {"type": "text", "align": "left", "baseline": "middle", "fontSize": 7.2, "color": "#2db82d", "text": "2 986k"},
     "encoding": {"x": {"datum": 1.691, "type": "quantitative", "axis": null}, "y": {"datum": 4583, "type": "quantitative"}}},
    {"mark": {"type": "rect", "fill": "#ffffff", "stroke": "#b0b0b0", "strokeWidth": 1},
     "encoding": {"x": {"datum": 18.723, "type": "quantitative", "axis": null}, "x2": {"datum": 19.8}, "y": {"datum": 3750, "type": "quantitative"}, "y2": {"datum": 2000}}},
    {"mark": {"type": "text", "align": "left", "baseline": "middle", "fontSize": 8, "color": "#2db82d", "text": "2 986k"},
     "encoding": {"x": {"datum": 18.805, "type": "quantitative", "axis": null}, "y": {"datum": 2880, "type": "quantitative"}}}
  ]
},
{
  "width": 455, "height": 40,
  "data": {"name": "one"},
  "layer": [
    {"mark": {"type": "rule", "color": "#b8b8b8", "strokeWidth": 1, "clip": true},
     "encoding": {"x": {"datum": 0.146, "type": "quantitative", "scale": {"domain": [0.146, 18.642], "nice": false, "zero": false}, "axis": null}, "x2": {"datum": 18.642},
                  "y": {"datum": 109, "type": "quantitative", "scale": {"domain": [-4, 110], "nice": false, "zero": false}}}},
    {"mark": {"type": "rule", "color": "#9a9a9a", "strokeWidth": 1, "strokeDash": [3, 2], "clip": true},
     "encoding": {"x": {"datum": 0.146, "type": "quantitative", "axis": null}, "x2": {"datum": 18.642}, "y": {"datum": 70, "type": "quantitative"}}},
    {"mark": {"type": "rule", "color": "#9a9a9a", "strokeWidth": 1, "strokeDash": [3, 2], "clip": true},
     "encoding": {"x": {"datum": 0.146, "type": "quantitative", "axis": null}, "x2": {"datum": 18.642}, "y": {"datum": 30, "type": "quantitative"}}},
    {"data": {"name": "rsi"},
     "mark": {"type": "line", "color": "#111", "strokeWidth": 1, "clip": true},
     "encoding": {"x": {"field": "t", "type": "quantitative", "axis": null},
                  "y": {"field": "v", "type": "quantitative", "axis": {"orient": "right", "values": [0, 50, 100], "tickCount": 20, "labelOffset": {"condition": {"test": "datum.value == 50", "value": -3}, "value": 0}, "title": null, "labelOverlap": false}}}},
    {"mark": {"type": "rect", "fill": "#fafafa", "stroke": "#c4c4c4", "strokeWidth": 1},
     "encoding": {"x": {"datum": 0.166, "type": "quantitative", "axis": null}, "x2": {"datum": 2.666}, "y": {"datum": 107.2, "type": "quantitative"}, "y2": {"datum": 75.8}}},
    {"mark": {"type": "point", "shape": "square", "filled": true, "opacity": 1, "size": 32, "color": "#000"},
     "encoding": {"x": {"datum": 0.35, "type": "quantitative", "axis": null}, "y": {"datum": 91.5, "type": "quantitative"}}},
    {"mark": {"type": "text", "align": "left", "baseline": "middle", "fontSize": 7.2, "color": "#222", "text": "RSI (14) 30,349"},
     "encoding": {"x": {"datum": 0.553, "type": "quantitative", "axis": null}, "y": {"datum": 91.5, "type": "quantitative"}}},
    {"mark": {"type": "rect", "fill": "#ffffff", "stroke": "#b0b0b0", "strokeWidth": 1},
     "encoding": {"x": {"datum": 18.723, "type": "quantitative", "axis": null}, "x2": {"datum": 19.8}, "y": {"datum": 44.5, "type": "quantitative"}, "y2": {"datum": 15.5}}},
    {"mark": {"type": "text", "align": "left", "baseline": "middle", "fontSize": 8, "color": "#111", "text": "30,349"},
     "encoding": {"x": {"datum": 18.805, "type": "quantitative", "axis": null}, "y": {"datum": 29.5, "type": "quantitative"}}}
  ]
},
{
  "width": 455, "height": 36,
  "data": {"name": "one"},
  "layer": [
    {"mark": {"type": "rule", "color": "#b8b8b8", "strokeWidth": 1, "clip": true},
     "encoding": {"x": {"datum": 0.146, "type": "quantitative", "scale": {"domain": [0.146, 18.642], "nice": false, "zero": false},
                        "axis": {"orient": "bottom", "values": [1,2,3,4,5,6,7,8,9,10,11,12,13,14,15,16,17,18], "tickCount": 40, "labelExpr": "['','10','11','12','13','16','17','18','19','20','23','24','25','26','27','mars','03','04','05'][datum.value]", "domain": false, "ticks": false, "labelPadding": 2, "labelFontSize": 8.5, "labelColor": "#222", "labelFlush": false, "labelOverlap": false, "labelBound": false, "title": null}},
                  "x2": {"datum": 18.642},
                  "y": {"datum": 47, "type": "quantitative", "scale": {"domain": [-52, 48], "nice": false, "zero": false}}}},
    {"mark": {"type": "rule", "color": "#b8b8b8", "strokeWidth": 1, "clip": true},
     "encoding": {"x": {"datum": 0.146, "type": "quantitative"}, "x2": {"datum": 18.642}, "y": {"datum": -51.5, "type": "quantitative"}}},
    {"mark": {"type": "rule", "color": "#3030f0", "strokeWidth": 1, "clip": true},
     "encoding": {"x": {"datum": 0.146, "type": "quantitative"}, "x2": {"datum": 18.642}, "y": {"datum": 0, "type": "quantitative"}}},
    {"data": {"name": "macd"}, "transform": [{"filter": "datum.k === 's'"}],
     "mark": {"type": "line", "color": "#f07070", "strokeWidth": 1, "clip": true},
     "encoding": {"x": {"field": "t", "type": "quantitative"}, "y": {"field": "v", "type": "quantitative"}}},
    {"data": {"name": "macd"}, "transform": [{"filter": "datum.k === 'm'"}],
     "mark": {"type": "line", "color": "#5050ff", "strokeWidth": 1, "clip": true},
     "encoding": {"x": {"field": "t", "type": "quantitative"},
                  "y": {"field": "v", "type": "quantitative", "axis": {"orient": "right", "values": [0], "tickCount": 20, "labelOffset": -2, "title": null, "labelOverlap": false}}}},
    {"mark": {"type": "rect", "fill": "#fafafa", "stroke": "#c4c4c4", "strokeWidth": 1},
     "encoding": {"x": {"datum": 0.166, "type": "quantitative"}, "x2": {"datum": 5.146}, "y": {"datum": 45.2, "type": "quantitative"}, "y2": {"datum": 11.9}}},
    {"mark": {"type": "rect", "color": "#e25a5a"},
     "encoding": {"x": {"datum": 0.228, "type": "quantitative"}, "x2": {"datum": 0.349}, "y": {"datum": 40, "type": "quantitative"}, "y2": {"datum": 17}}},
    {"mark": {"type": "rect", "color": "#3030f0"},
     "encoding": {"x": {"datum": 0.349, "type": "quantitative"}, "x2": {"datum": 0.471}, "y": {"datum": 40, "type": "quantitative"}, "y2": {"datum": 17}}},
    {"mark": {"type": "text", "align": "left", "baseline": "middle", "fontSize": 7, "color": "#222", "text": "MACD (12 26 9)"},
     "encoding": {"x": {"datum": 0.553, "type": "quantitative"}, "y": {"datum": 28.6, "type": "quantitative"}}},
    {"mark": {"type": "text", "align": "left", "baseline": "middle", "fontSize": 7, "color": "#e25a5a", "text": "-30,701"},
     "encoding": {"x": {"datum": 2.75, "type": "quantitative"}, "y": {"datum": 28.6, "type": "quantitative"}}},
    {"mark": {"type": "text", "align": "left", "baseline": "middle", "fontSize": 7, "color": "#3030f0", "text": "-49,142"},
     "encoding": {"x": {"datum": 3.85, "type": "quantitative"}, "y": {"datum": 28.6, "type": "quantitative"}}},
    {"mark": {"type": "rect", "fill": "#ffffff", "stroke": "#b0b0b0", "strokeWidth": 1},
     "encoding": {"x": {"datum": 18.723, "type": "quantitative"}, "x2": {"datum": 19.9}, "y": {"datum": -7.5, "type": "quantitative"}, "y2": {"datum": -32.5}}},
    {"mark": {"type": "text", "align": "left", "baseline": "middle", "fontSize": 8, "color": "#e25a5a", "text": "-30,701"},
     "encoding": {"x": {"datum": 18.805, "type": "quantitative"}, "y": {"datum": -20, "type": "quantitative"}}},
    {"mark": {"type": "rect", "fill": "#ffffff", "stroke": "#b0b0b0", "strokeWidth": 1},
     "encoding": {"x": {"datum": 18.723, "type": "quantitative"}, "x2": {"datum": 19.9}, "y": {"datum": -32.5, "type": "quantitative"}, "y2": {"datum": -51.5}}},
    {"mark": {"type": "text", "align": "left", "baseline": "middle", "fontSize": 8, "color": "#3030f0", "text": "-49,142"},
     "encoding": {"x": {"datum": 18.805, "type": "quantitative"}, "y": {"datum": -41.8, "type": "quantitative"}}}
  ]
}
]
}
